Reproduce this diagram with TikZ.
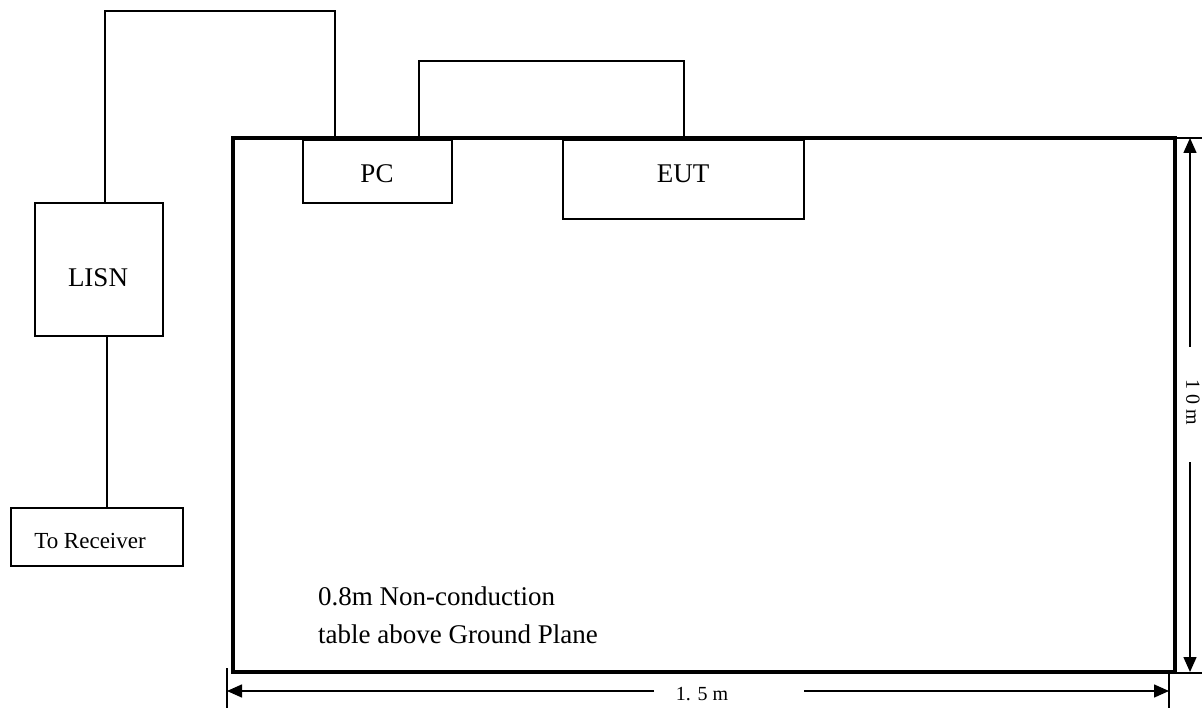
\documentclass[tikz,border=0pt]{standalone}
\usepackage{fontspec}
\setmainfont{Liberation Serif}
\usetikzlibrary{arrows.meta}
\begin{document}
\begin{tikzpicture}[x=1pt,y=-1pt,
  box/.style={draw,line width=1.6pt,inner sep=0pt,outer sep=0pt,minimum width=#1},
  wire/.style={line width=1.6pt},
  tbl/.style={draw,line width=3.6pt,inner sep=0pt,outer sep=0pt},
  lbl/.style={inner sep=0pt,anchor=base,font=\fontsize{27}{32}\selectfont},
  small/.style={inner sep=0pt,font=\fontsize{20}{24}\selectfont},
  dim/.style={line width=1.5pt,-{Triangle[length=15pt,width=13pt]}},
  ext/.style={line width=1.2pt}]
\useasboundingbox (0,0) rectangle (1202,708);
% boxes and connectors
\node[box=149pt,minimum height=63pt] (pc) at (377.5,171.5) {};
\node[box=241pt,minimum height=79pt] (eut) at (683.5,179.5) {};
\node[box=128pt,minimum height=133pt] (lisn) at (99,269.5) {};
\node[box=172pt,minimum height=58pt] (rx) at (97,537) {};
\draw[wire] (lisn.north -| 105,0) |- (335,11) -- (pc.north -| 335,0);
\draw[wire] (pc.north -| 419,0) |- (684,61) -- (eut.north -| 684,0);
\draw[wire] (lisn.south -| 107,0) -- (rx.north -| 107,0);
% table
\node[tbl,minimum width=942pt,minimum height=534pt] (table) at (704,405) {};
\node[box=149pt,minimum height=63pt,fill=white] (pcb) at (377.5,171.5) {};
\node[box=241pt,minimum height=79pt,fill=white] (eutb) at (683.5,179.5) {};
% labels
\node[lbl] (pct) at (377,183) {PC};
\node[lbl] (eutt) at (683,183) {EUT};
\node[lbl] (lisnt) at (98,287) {LISN};
\node[lbl,font=\fontsize{23}{28}\selectfont] (rxt) at (90,548) {To Receiver};
\node[lbl,anchor=base west] (t1) at (318,605) {0.8m Non-conduction};
\node[lbl,anchor=base west] (t2) at (318,643) {table above Ground Plane};
% dimensions
\coordinate (r1) at (1190,138);
\coordinate (r2) at (1190,347);
\coordinate (r3) at (1190,462);
\coordinate (r4) at (1190,672);
\draw[dim] (r2) -- (r1);
\draw[dim] (r3) -- (r4);
\node[small,rotate=-90] (vh) at (1193,402) {1 0 m};
\coordinate (e1) at (1175,138);
\coordinate (e2) at (1202,138);
\coordinate (e3) at (1175,673);
\coordinate (e4) at (1202,673);
\draw[ext] (e1) -- (e2);
\draw[ext] (e3) -- (e4);
\coordinate (b1) at (227,691);
\coordinate (b2) at (654,691);
\coordinate (b3) at (804,691);
\coordinate (b4) at (1169,691);
\coordinate (t1a) at (227,668);
\coordinate (t1b) at (227,708);
\coordinate (t2a) at (1169,673);
\coordinate (t2b) at (1169,708);
\draw[ext] (t1a) -- (t1b);
\draw[ext] (t2a) -- (t2b);
\draw[dim] (b2) -- (b1);
\draw[dim] (b3) -- (b4);
\node[small,anchor=base] (hw) at (702,700) {1. 5 m};
\end{tikzpicture}
\end{document}
